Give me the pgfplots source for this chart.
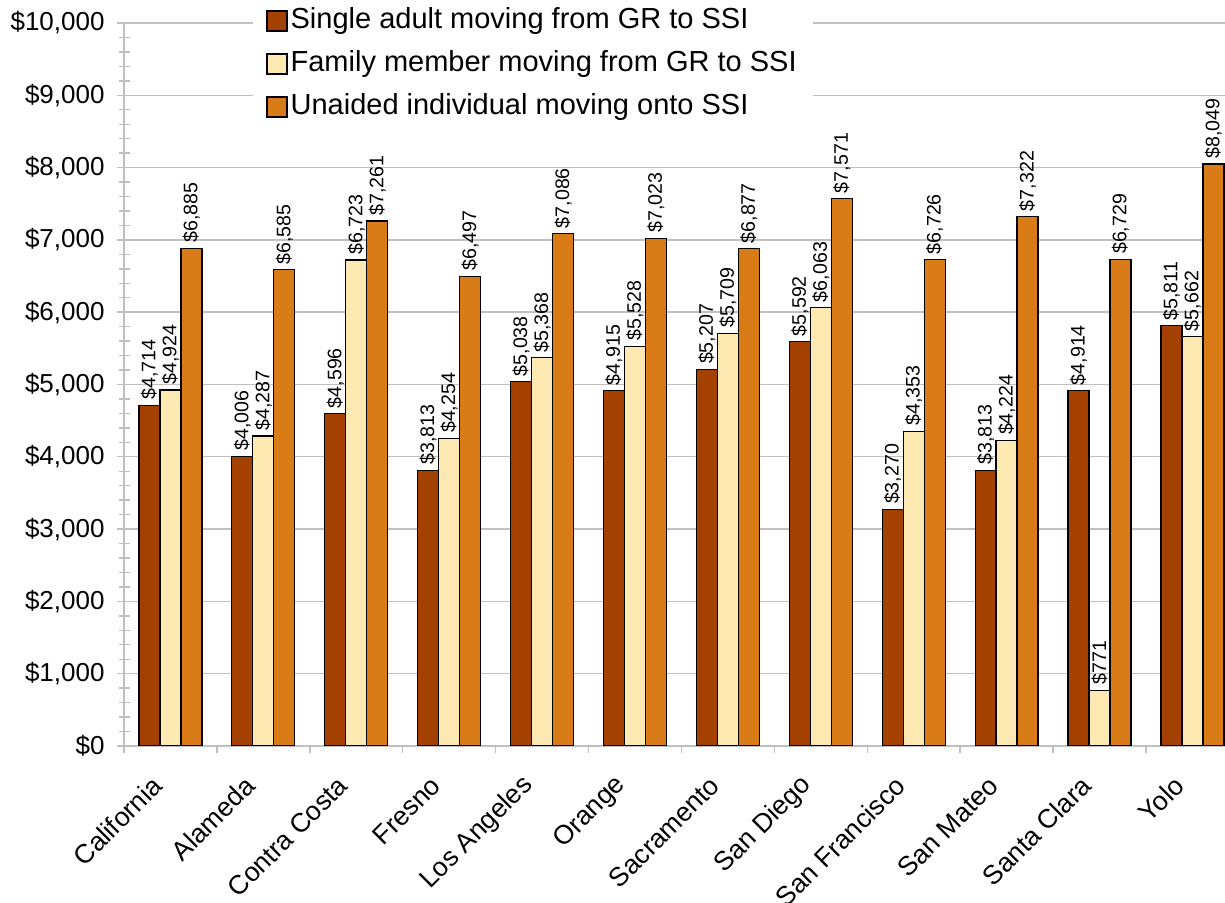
\documentclass[border=0pt]{standalone}
\usepackage{fontspec}
\setmainfont{Liberation Sans}
\usepackage{pgfplots}
\usepackage{pgfplotstable}
\pgfplotsset{compat=1.18}

\definecolor{single}{HTML}{A44000}
\definecolor{family}{HTML}{FFE9B2}
\definecolor{unaided}{HTML}{D97C18}
\definecolor{gridgray}{HTML}{C0C0C0}

% Cost per case, by county
\pgfplotstableread{
idx single family unaided
0  4714 4924 6885
1  4006 4287 6585
2  4596 6723 7261
3  3813 4254 6497
4  5038 5368 7086
5  4915 5528 7023
6  5207 5709 6877
7  5592 6063 7571
8  3270 4353 6726
9  3813 4224 7322
10 4914 771  6729
11 5811 5662 8049
}\costs

\pgfplotsset{
  sqlegend/.style={legend image code/.code={\draw[##1,draw=black,line width=0.6pt] (0pt,-5pt) rectangle (10pt,5pt);}},
}

\begin{document}
\begin{tikzpicture}
\begin{axis}[
  at={(0pt,0pt)}, anchor=south west,
  scale only axis, width=550.5pt, height=361.5pt,
  xmin=-0.5, xmax=11.351, ymin=0, ymax=10000,
  ybar, bar width=0.226,
  axis x line*=bottom, axis y line*=left,
  axis line style={-, gridgray, line width=0.7pt},
  /pgf/number format/1000 sep={,},
  /pgf/number format/assume math mode=true,
  scaled y ticks=false,
  ytick={0,1000,...,10000},
  minor y tick num=4,
  yticklabel={\$\pgfmathprintnumber{\tick}},
  yticklabel style={font=\fontsize{13}{15}\selectfont, xshift=-2.7pt},
  ymajorgrids,
  grid style={gridgray, line width=0.7pt},
  tick style={gridgray, line width=0.7pt},
  tick align=outside,
  major tick length=3.5pt,
  minor tick length=5.5pt,
  minor y tick style={xshift=3pt},
  % group boundaries carry the tick marks, group centres carry the names
  xtick={-0.5,0.5,...,11.5},
  xticklabel={\mbox{}},
  extra x ticks={0,1,...,11},
  extra x tick labels={California,Alameda,Contra Costa,Fresno,Los Angeles,Orange,Sacramento,San Diego,San Francisco,San Mateo,Santa Clara,Yolo},
  extra x tick style={major tick length=0pt, grid=none,
    xticklabel style={xshift=-6.5pt, yshift=-17.5pt, rotate=45, anchor=east,
      inner sep=0pt, font=\fontsize{13.3}{15}\selectfont}},
  nodes near coords={\$\pgfmathprintnumber{\pgfplotspointmeta}},
  nodes near coords style={rotate=90, anchor=west, inner sep=2.5pt,
    font=\fontsize{9.8}{11}\selectfont, black},
  legend cell align=left,
  legend style={draw=none, fill=white, at={(0.1172,1.0304)}, anchor=north west,
    font=\fontsize{14.5}{17}\selectfont, inner xsep=6.5pt, inner ysep=1pt,
    nodes={inner xsep=1.5pt, inner ysep=2pt, text height=10.5pt, text depth=3pt},
    row sep=4pt},
]
\addplot[sqlegend, fill=single, draw=black, line width=0.6pt, bar shift=-0.226]
  table[x=idx, y=single] {\costs};
\addplot[sqlegend, fill=family, draw=black, line width=0.6pt, bar shift=0]
  table[x=idx, y=family] {\costs};
\addplot[sqlegend, fill=unaided, draw=black, line width=0.6pt, bar shift=0.226]
  table[x=idx, y=unaided] {\costs};
\legend{Single adult moving from GR to SSI, Family member moving from GR to SSI, Unaided individual moving onto SSI}
\end{axis}
\pgfresetboundingbox
\path (-62pt,-78.5pt) rectangle (550.5pt,373pt);
\end{tikzpicture}
\end{document}
